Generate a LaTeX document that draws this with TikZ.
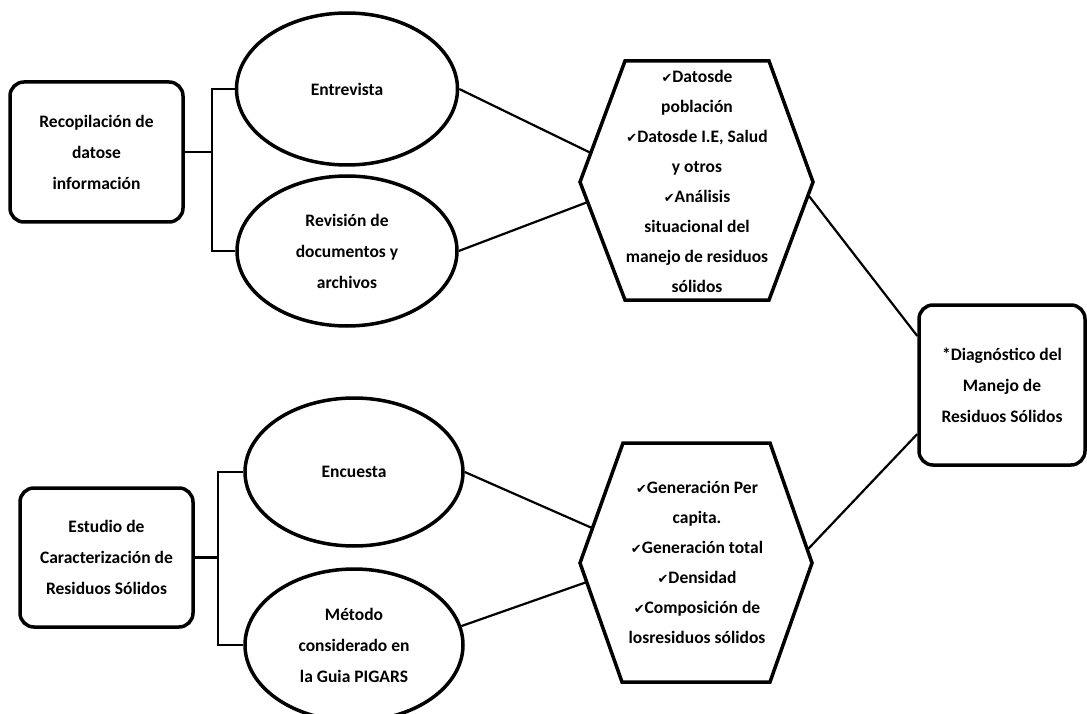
\documentclass[tikz,border=0pt]{standalone}
\usepackage{fontspec}
\setmainfont{Carlito}
\newfontfamily\symf{DejaVu Sans}
\usetikzlibrary{shapes.geometric,calc}
\newcommand{\ck}{{\symf\fontsize{13}{13}\selectfont ✔}}
\begin{document}
\begin{tikzpicture}[x=1pt,y=-1pt,
  txt/.style={align=center,font=\bfseries\fontsize{17.5}{31}\selectfont},
  rbox/.style={txt,draw,line width=3.5pt,rounded corners=14pt,inner sep=0pt},
  oval/.style={txt,draw,ellipse,line width=3.5pt,inner sep=0pt},
  hexline/.style={line width=3.5pt,line join=miter},
  conn/.style={line width=2.2pt}]
\useasboundingbox (0,0) rectangle (1087,714);

% left boxes
\node[rbox,minimum width=173pt,minimum height=140pt] (box1) at (96.5,152) {Recopilación de\\datose\\información};
\node[rbox,minimum width=173pt,minimum height=139pt] (box2) at (106.5,557.5) {Estudio de\\Caracterización de\\Residuos Sólidos};

% ellipses
\node[oval,minimum width=221pt,minimum height=152pt] (ent) at (347,89) {Entrevista};
\node[oval,minimum width=220pt,minimum height=150pt] (rev) at (347,251) {Revisión de\\documentos y\\archivos};
\node[oval,minimum width=218pt,minimum height=148pt] (enc) at (354,472) {Encuesta};
\node[oval,minimum width=218pt,minimum height=152pt] (met) at (354,645) {Método\\considerado en\\la Guia PIGARS};

% hexagon 1
\coordinate (h1tl) at (625,61);
\coordinate (h1tr) at (769,61);
\coordinate (h1r) at (813,182);
\coordinate (h1br) at (769,300);
\coordinate (h1bl) at (625,300);
\coordinate (h1l) at (580,182);
\draw[hexline] (h1tl) -- (h1tr) -- (h1r) -- (h1br) -- (h1bl) -- (h1l) -- cycle;
\node[txt,font=\bfseries\fontsize{17.5}{30}\selectfont] (hex1) at (697,181) {\ck Datosde\\población\\\ck Datosde I.E, Salud\\y otros\\\ck Análisis\\situacional del\\manejo de residuos\\sólidos};

% hexagon 2
\coordinate (h2tl) at (623,443);
\coordinate (h2tr) at (770,443);
\coordinate (h2r) at (812,563);
\coordinate (h2br) at (770,682);
\coordinate (h2bl) at (622,682);
\coordinate (h2l) at (580,563);
\draw[hexline] (h2tl) -- (h2tr) -- (h2r) -- (h2br) -- (h2bl) -- (h2l) -- cycle;
\node[txt,font=\bfseries\fontsize{17.5}{30}\selectfont] (hex2) at (697,562) {\ck Generación Per\\capita.\\\ck Generación total\\\ck Densidad\\\ck Composición de\\losresiduos sólidos};

% diagnosis box
\node[rbox,minimum width=166pt,minimum height=160pt] (diag) at (1002,385) {*Diagnóstico del\\Manejo de\\Residuos Sólidos};

% tree connectors
\coordinate (t1) at (212,152);
\coordinate (t2) at (218,557.5);
\draw[conn] (box1.east) -- (t1);
\draw[conn] (ent.west) -| (t1);
\draw[conn] (rev.west) -| (t1);
\draw[conn] (box2.east) -- (t2);
\draw[conn] (enc.west) -| (t2);
\draw[conn] (met.west) -| (t2);

% connectors to hexagons
\draw[conn] (ent.east) -- ($(h1tl)!0.76!(h1l)$);
\draw[conn] (rev.east) -- ($(h1l)!0.17!(h1bl)$);
\draw[conn] (enc.east) -- ($(h2tl)!0.71!(h2l)$);
\draw[conn] (met.10) -- ($(h2l)!0.16!(h2bl)$);

% connectors to diagnosis
\draw[conn] ($(h1r)!0.11!(h1br)$) -- ($(diag.north west)!0.2!(diag.south west)$);
\draw[conn] ($(h2tr)!0.89!(h2r)$) -- ($(diag.north west)!0.8!(diag.south west)$);
\end{tikzpicture}
\end{document}
